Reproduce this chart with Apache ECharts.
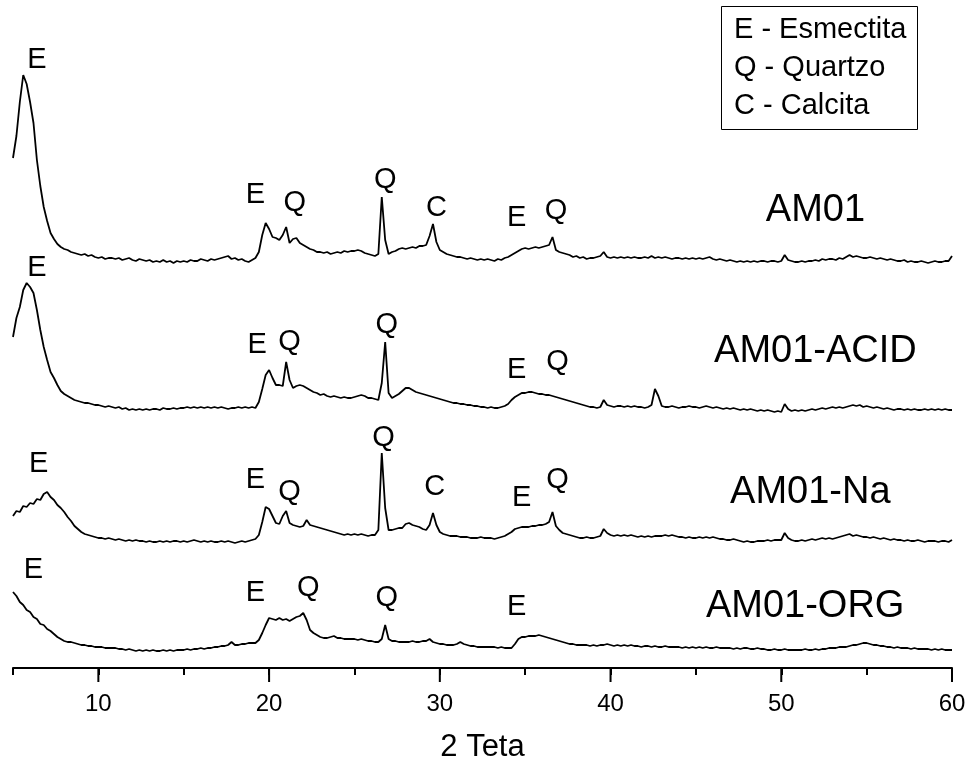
<!DOCTYPE html>
<html>
<head>
<meta charset="utf-8">
<title>DRX AM01</title>
<script src="https://cdn.jsdelivr.net/npm/echarts@6/dist/echarts.min.js"></script>
<style>
  html, body { margin: 0; padding: 0; background: #fff; }
  #chart { width: 973px; height: 773px; }
</style>
</head>
<body>
<div id="chart"></div>
<script>
// 2θ sampling of the diffractograms
const thetaStart = 5.0;
const thetaStep = 0.2;

// Intensities (a.u.) above each pattern's own baseline, one value per 0.2°
const am01 = [
  102,124,158,185,176,158,137,100,74,53,
  39,27,21,16,13,11,10,8,7,6,
  5,6,4,5,3,2,3,1,2,2,
  1,2,0,1,2,0,-1,1,0,-1,
  0,-2,-1,-2,0,-2,-1,-3,-1,-2,
  -1,-2,0,-1,-1,1,0,-1,1,0,
  1,2,3,4,1,2,0,1,-1,-2,
  0,2,8,25,37,31,23,22,20,25,
  33,17,21,22,17,15,13,11,10,8,
  8,7,8,6,7,8,7,9,8,9,
  9,10,9,7,6,5,4,6,63,20,
  6,8,9,11,12,11,12,13,12,14,
  14,15,24,36,18,10,8,6,5,4,
  3,3,2,1,2,1,0,1,0,1,
  0,-1,1,0,2,3,5,7,9,11,
  12,11,12,13,12,13,14,15,23,10,
  8,7,6,5,3,4,2,3,1,2,
  2,3,4,8,3,2,3,2,3,2,
  3,2,3,2,2,3,2,4,2,3,
  2,3,2,1,2,2,1,2,1,2,
  1,2,1,2,3,1,0,1,0,-1,
  0,-1,-2,-1,-2,-1,-2,-1,-2,-1,
  -1,-2,-1,-1,-2,-1,5,0,-1,-2,
  -2,-1,-2,-1,-1,0,-1,1,0,1,
  1,0,2,1,3,5,3,4,3,2,
  2,3,2,1,2,1,0,1,0,-1,
  -1,0,-2,-1,-2,-2,-1,-2,-3,-2,
  -1,-2,-2,-1,-1,4
];

const am01Acid = [
  71,90,101,118,125,121,115,98,78,61,
  48,36,30,23,17,14,12,10,8,7,
  6,5,5,4,3,3,2,1,2,1,
  0,1,-1,0,-2,-1,-2,-1,-2,-1,
  -2,-1,-1,-2,0,-1,-1,0,-1,0,
  0,1,0,1,0,1,0,1,0,1,
  0,1,0,-1,0,0,1,0,1,0,
  1,0,6,19,33,38,30,23,23,22,
  46,28,20,22,23,22,20,18,16,15,
  13,14,12,11,12,11,10,11,10,10,
  11,12,13,12,10,10,9,8,25,66,
  15,10,12,14,17,20,20,18,16,15,
  14,13,12,11,10,9,8,7,6,5,
  5,4,4,3,3,2,2,1,1,0,
  1,0,0,1,2,4,8,11,13,15,
  15,16,16,15,14,14,13,13,12,11,
  10,9,8,7,6,5,4,3,2,1,
  1,0,1,8,3,2,1,2,2,1,
  2,1,2,1,1,0,1,3,19,12,
  2,1,1,2,1,0,1,1,2,1,
  1,0,1,2,1,0,1,0,-1,0,
  -1,0,-1,-2,-1,-2,-1,-2,-3,-2,
  -3,-2,-3,-4,-3,-4,4,-1,-3,-2,
  -3,-2,-3,-2,-1,-2,-1,0,-1,0,
  1,0,1,0,1,2,3,2,3,1,
  2,1,0,1,0,-1,0,-1,-2,-1,
  -1,-2,-1,-2,-1,-2,-2,-1,-2,-1,
  -2,-1,-2,-1,-2,-2
];

const am01Na = [
  24,29,28,34,33,37,36,41,40,46,
  48,43,40,35,32,28,23,19,14,11,
  8,6,5,4,3,2,2,1,2,1,
  0,1,0,-1,0,-1,0,-1,-1,-2,
  -1,-2,-2,-1,-2,-1,-2,-1,-1,-2,
  -1,-2,-1,0,-1,-2,-1,-2,-1,-2,
  -2,-1,-2,-1,-2,-3,-2,-1,-2,-1,
  0,1,5,18,33,31,24,17,16,24,
  29,17,15,14,13,14,20,15,14,13,
  12,11,10,9,8,7,6,5,6,5,
  6,5,6,5,4,5,5,10,87,32,
  10,10,11,12,12,16,17,15,14,13,
  11,10,15,27,15,8,6,5,4,4,
  4,3,3,3,2,2,2,3,2,2,
  2,1,2,3,4,6,8,11,12,13,
  13,13,14,14,15,15,16,18,28,14,
  10,7,6,5,4,3,2,2,3,2,
  2,3,4,11,7,5,4,5,4,5,
  4,5,4,3,4,3,4,3,4,4,
  4,5,4,5,4,3,3,2,3,2,
  2,3,2,3,2,3,2,1,1,0,
  0,1,0,-1,-2,-1,-2,-2,-1,-1,
  -1,0,-1,0,0,0,7,2,0,-1,
  -1,0,-1,0,1,0,1,2,1,2,
  1,2,3,4,5,6,4,5,4,3,
  3,2,3,2,1,2,1,0,1,0,
  0,-1,0,-1,-1,0,-1,-2,-1,-1,
  -1,-2,-1,-1,-2,0
];

const am01Org = [
  58,54,48,45,40,38,33,31,26,25,
  21,19,16,13,11,9,8,8,7,6,
  5,5,4,4,3,3,3,2,2,2,
  2,1,1,0,1,0,-1,0,-1,0,
  -1,0,-1,-1,0,-1,0,-1,0,0,
  0,1,0,1,1,2,1,2,2,3,
  3,4,4,5,8,5,5,6,6,7,
  7,7,10,17,25,32,31,30,32,30,
  31,29,31,33,34,37,30,20,17,15,
  13,12,12,13,14,12,12,11,11,11,
  11,10,11,10,9,9,8,8,11,25,
  11,9,9,8,8,8,8,9,8,8,
  9,9,11,8,7,6,6,5,5,5,
  6,8,6,5,4,4,3,3,3,3,
  3,3,2,3,2,2,2,6,11,13,
  13,14,14,14,15,14,13,12,11,10,
  9,8,7,6,6,5,5,5,5,4,
  5,4,5,5,6,5,4,5,4,5,
  4,5,4,4,3,4,4,3,4,3,
  3,4,3,3,3,3,2,3,2,3,
  2,3,2,3,2,2,3,2,2,2,
  2,1,2,1,2,2,1,1,2,1,
  1,0,0,1,0,0,1,0,0,0,
  0,0,1,0,0,1,0,1,1,2,
  2,2,3,3,3,4,5,5,6,7,
  7,6,5,5,4,4,3,3,2,3,
  2,2,2,1,2,1,1,1,1,0,
  1,0,1,0,0,0
];

// Sample names, their patterns and vertical offsets for the stacked plot
const sampleNames = ['AM01', 'AM01-ACID', 'AM01-Na', 'AM01-ORG'];
const samplePatterns = [am01, am01Acid, am01Na, am01Org];
const traceOffsets = [408, 260, 128, 18];
// Where each sample name sits: [2θ, height above its baseline]
const sampleNameAnchors = [[52.0, 49], [52.0, 56], [51.7, 47], [51.4, 43]];

// Phase identifications per pattern: letter, 2θ, height above baseline
const am01Peaks = [['E', 6.4, 200], ['E', 19.2, 65], ['Q', 21.5, 57], ['Q', 26.8, 80], ['C', 29.8, 52], ['E', 34.5, 42], ['Q', 36.8, 49]];
const am01AcidPeaks = [['E', 6.4, 140], ['E', 19.3, 63], ['Q', 21.2, 66], ['Q', 26.9, 83], ['E', 34.5, 38], ['Q', 36.9, 46]];
const am01NaPeaks = [['E', 6.5, 76], ['E', 19.2, 60], ['Q', 21.2, 48], ['Q', 26.7, 102], ['C', 29.7, 53], ['E', 34.8, 42], ['Q', 36.9, 60]];
const am01OrgPeaks = [['E', 6.2, 80], ['E', 19.2, 57], ['Q', 22.3, 62], ['Q', 26.9, 52], ['E', 34.5, 43]];
const peakSets = [am01Peaks, am01AcidPeaks, am01NaPeaks, am01OrgPeaks];

const phaseKey = ['E - Esmectita', 'Q - Quartzo', 'C - Calcita'];

// Axis
const xMin = 5, xMax = 60;
const minorTickStep = 5;
const majorTickValues = [10, 20, 30, 40, 50, 60];
const axisTitle = '2 Teta';

const FONT = "'Liberation Sans', Arial, Helvetica, sans-serif";

const lineSeries = samplePatterns.map((vals, k) => ({
  type: 'line',
  name: sampleNames[k],
  showSymbol: false,
  symbol: 'none',
  sampling: 'none',
  silent: true,
  lineStyle: { color: '#000', width: 1.8 },
  data: vals.map((v, i) => [+(thetaStart + i * thetaStep).toFixed(2), traceOffsets[k] + v])
}));

const peakLabelData = [];
peakSets.forEach((set, k) => {
  set.forEach(([letter, th, h]) => {
    peakLabelData.push({ value: [th, traceOffsets[k] + h], name: letter });
  });
});

const nameLabelData = sampleNames.map((n, k) => ({
  value: [sampleNameAnchors[k][0], traceOffsets[k] + sampleNameAnchors[k][1]],
  name: n
}));

const textOnlyScatter = (data, size) => ({
  type: 'scatter',
  symbolSize: 0,
  silent: true,
  itemStyle: { opacity: 1 },
  data: data,
  label: {
    show: true,
    position: 'inside',
    formatter: p => p.name,
    color: '#000',
    opacity: 1,
    textBorderWidth: 0,
    fontFamily: FONT,
    fontSize: size,
    align: 'center',
    verticalAlign: 'middle'
  }
});

const chart = echarts.init(document.getElementById('chart'), null, { renderer: 'canvas' });

chart.setOption({
  animation: false,
  backgroundColor: '#fff',
  title: {
    text: phaseKey.join('\n'),
    left: 721,
    top: 6,
    padding: [5, 11, 5, 13],
    borderColor: '#000',
    borderWidth: 1,
    textStyle: {
      fontFamily: FONT,
      fontSize: 29,
      fontWeight: 'normal',
      color: '#000',
      lineHeight: 38
    }
  },
  grid: {
    left: 13, right: 21, top: 20, bottom: 105,
    containLabel: false,
    outerBoundsMode: 'none'
  },
  xAxis: {
    type: 'value',
    min: xMin,
    max: xMax,
    interval: minorTickStep,
    name: axisTitle,
    nameLocation: 'middle',
    nameGap: 64,
    nameTextStyle: { fontFamily: FONT, fontSize: 31, color: '#000' },
    axisLine: { show: true, lineStyle: { color: '#000', width: 2 } },
    axisTick: { show: true, inside: false, length: 7, lineStyle: { color: '#000', width: 2 } },
    axisLabel: {
      show: true,
      margin: 24,
      color: '#000',
      fontFamily: FONT,
      fontSize: 24,
      showMinLabel: true,
      showMaxLabel: true,
      formatter: v => (majorTickValues.indexOf(v) >= 0 ? String(v) : '')
    },
    splitLine: { show: false }
  },
  yAxis: {
    type: 'value',
    min: 0,
    max: 648,
    show: false,
    splitLine: { show: false }
  },
  series: [
    ...lineSeries,
    textOnlyScatter(peakLabelData, 29),
    textOnlyScatter(nameLabelData, 38),
    {
      // long ticks at the labelled positions
      type: 'custom',
      silent: true,
      clip: false,
      data: majorTickValues.map(v => [v, 0]),
      renderItem: (params, api) => {
        const p = api.coord([api.value(0), 0]);
        return {
          type: 'line',
          shape: { x1: p[0], y1: p[1], x2: p[0], y2: p[1] + 14 },
          style: { stroke: '#000', lineWidth: 2 }
        };
      }
    }
  ]
});
</script>
</body>
</html>
